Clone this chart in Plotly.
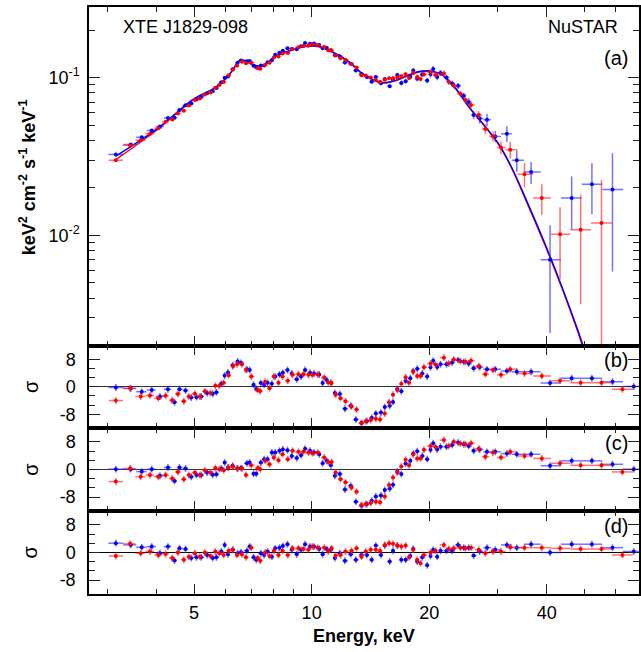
import numpy as np
import plotly.graph_objects as go
from plotly.subplots import make_subplots

# FPMA (blue) spectrum, keV
fpma_energy = [3.151, 3.441, 3.671, 3.894, 4.088, 4.285, 4.455, 4.588, 4.753, 4.914,
               5.071, 5.212, 5.399, 5.580, 5.702, 5.871, 5.987, 6.106, 6.276, 6.464,
               6.592, 6.828, 6.936, 7.100, 7.213, 7.413, 7.559, 7.709, 7.909, 8.066,
               8.272, 8.436, 8.672, 8.895, 9.161, 9.396, 9.619, 9.906, 10.14, 10.46,
               10.67, 10.93, 11.20, 11.47, 11.81, 12.17, 12.60, 12.98,
               13.42, 13.85, 14.25, 14.60, 15.05, 15.39, 15.85, 16.16, 16.58, 16.97,
               17.41, 17.90, 18.21, 18.64, 19.20, 19.77, 20.16, 20.48, 20.97, 21.38,
               22.15, 22.90, 23.72, 24.53, 25.25, 26.00, 26.94, 28.13, 29.54, 31.63,
               33.53, 36.49, 40.80, 46.35, 52.23, 58.96, 66.83]
fpma_flux = [0.0325, 0.0377, 0.0418, 0.0462, 0.0490, 0.0555, 0.0556, 0.0623, 0.0667, 0.0686,
             0.0725, 0.0752, 0.0796, 0.0819, 0.0859, 0.0933, 0.0999, 0.1017, 0.1130, 0.1241,
             0.1281, 0.1271, 0.1272, 0.1188, 0.1159, 0.1191, 0.1194, 0.1252, 0.1288, 0.1396,
             0.1436, 0.1478, 0.1535, 0.1518, 0.1511, 0.1579, 0.1656, 0.1640, 0.1643, 0.1607,
             0.1536, 0.1541, 0.1492, 0.1383, 0.1363, 0.1244, 0.1222, 0.1107,
             0.1055, 0.1007, 0.0942, 0.1010, 0.0919, 0.0978, 0.0881, 0.0972, 0.1039, 0.0924,
             0.0948, 0.1011, 0.1107, 0.0983, 0.1045, 0.0957, 0.1048, 0.1135, 0.1010, 0.1070,
             0.1000, 0.0918, 0.0886, 0.0767, 0.0699, 0.0580, 0.0551, 0.0540, 0.0424, 0.0441,
             0.0299, 0.0252, 0.00701, 0.01725, 0.0211, 0.0195, None]
fpma_flux_err = [0.0005, 0.0006, 0.0006, 0.0007, 0.0008, 0.0008, 0.0009, 0.0010, 0.0010, 0.0011,
                 0.0011, 0.0011, 0.0012, 0.0013, 0.0013, 0.0014, 0.0015, 0.0015, 0.0017, 0.0019,
                 0.0019, 0.0019, 0.0019, 0.0018, 0.0018, 0.0018, 0.0018, 0.0019, 0.0020, 0.0027,
                 0.0028, 0.0029, 0.0030, 0.0030, 0.0030, 0.0031, 0.0032, 0.0032, 0.0032, 0.0032,
                 0.0031, 0.0031, 0.0030, 0.0028, 0.0027, 0.0032, 0.0031, 0.0028,
                 0.0026, 0.0026, 0.0024, 0.0025, 0.0024, 0.0025, 0.0023, 0.0034, 0.0035, 0.0034,
                 0.0035, 0.0035, 0.0038, 0.0036, 0.0037, 0.0035, 0.0049, 0.0050, 0.0048, 0.0046,
                 0.0045, 0.0041, 0.0039, 0.0034, 0.0042, 0.0035, 0.0040, 0.0050, 0.0035, 0.0050,
                 0.0046, 0.0040, 0.0046, 0.0064, 0.0075, 0.0136, None]
fpma_resid_b = [-0.2, -0.5, -1.4, -0.9, -2.8, -0.7, -4.5, -0.7, -1.1, -3.1,
                -3.0, -2.8, -1.8, -2.0, -1.6, 0.9, 3.3, 4.2, 6.3, 7.4,
                7.0, 5.1, 4.9, 0.6, -0.6, 1.1, 0.6, 1.2, 0.9, 3.0,
                3.6, 4.1, 4.9, 3.9, 2.2, 3.0, 4.9, 4.1, 3.9, 3.6,
                1.1, 2.0, 1.2, -1.8, -2.1, -6.4, -5.5, -9.5,
                -10.5, -10.0, -9.0, -7.8, -7.5, -5.9, -5.5, -4.4, -0.6, -1.3,
                1.7, 2.5, 4.6, 5.3, 3.9, 3.0, 5.7, 7.6, 5.8, 6.6,
                6.6, 7.1, 7.8, 7.3, 6.8, 5.4, 5.8, 5.1, 5.1, 4.6,
                4.4, 4.4, 1.1, 2.5, 2.5, 1.5, 0.1]
fpma_resid_c = [0.1, 0.1, -0.6, 0.1, -1.8, 0.6, -3.3, 0.6, 0.3, -2.1,
                -1.6, -1.6, -0.9, -1.5, -1.4, 0.3, 2.0, 0.6, 1.1, 0.3,
                0.4, 1.8, 2.0, -1.2, -1.2, 2.0, 3.0, 3.0, 4.9, 4.9,
                5.4, 5.8, 5.6, 3.9, 3.3, 4.1, 6.0, 5.4, 4.9, 4.4,
                1.8, 2.5, 1.2, -1.8, -1.3, -5.8, -4.7, -9.3,
                -10.5, -10.0, -9.0, -7.8, -7.5, -5.9, -5.5, -4.4, -0.6, -1.3,
                1.7, 2.5, 4.6, 5.3, 3.9, 3.0, 5.7, 7.6, 5.8, 6.6,
                6.6, 7.1, 7.8, 7.3, 6.8, 5.4, 5.8, 5.1, 5.1, 4.6,
                4.4, 4.4, 1.1, 2.5, 2.5, 1.5, 0.1]
fpma_resid_d = [2.7, 2.2, 1.5, 1.7, -0.2, 1.7, -2.3, 1.2, 1.0, -1.6,
                -1.4, -1.4, -0.7, -1.6, -1.4, 0.3, 2.2, -0.5, 0.8, -0.2,
                0.1, 0.5, 1.7, -1.4, -2.1, -0.2, -0.7, 0.3, -1.2, 1.2,
                1.4, 1.9, 2.4, 0.8, -0.5, 0.8, 2.4, 1.7, 1.7, 1.1,
                -0.5, 1.0, 0.8, -1.6, -0.2, -2.4, -0.5, -2.1,
                -0.7, -0.7, -2.1, 2.0, -0.7, 2.0, -2.6, 0.5, 2.0, -2.1,
                -2.1, -1.0, 1.1, -2.6, -1.4, -3.7, -1.0, 0.8, -1.2, 0.5,
                0.5, 0.5, 2.2, 1.4, 1.4, -0.9, 0.3, 1.4, 0.8, 2.2,
                1.4, 2.4, 0.0, 2.4, 2.4, 1.4, 0.3]

# FPMB (red) spectrum
fpmb_energy = [3.151, 3.427, 3.649, 3.855, 4.048, 4.227, 4.395, 4.543, 4.706, 4.847,
               5.021, 5.171, 5.325, 5.506, 5.668, 5.803, 5.953, 6.130, 6.289, 6.438,
               6.631, 6.789, 7.005, 7.284, 7.384, 7.605, 7.800, 8.003, 8.225, 8.420,
               8.688, 8.930, 9.250, 9.526, 9.808, 10.04, 10.36, 10.77, 11.03, 11.25,
               11.52, 11.86, 12.21, 12.65, 13.03, 13.42,
               13.76, 14.17, 14.60, 14.97, 15.39, 15.79, 16.16, 16.58, 16.97, 17.41,
               17.76, 18.21, 18.64, 19.01, 19.39, 20.16, 20.76, 21.81, 22.45, 23.12,
               24.05, 24.77, 25.60, 26.78, 27.86, 29.14, 30.54, 32.26, 35.09, 38.86,
               43.28, 48.87, 55.26, 62.52]
fpmb_flux = [0.0299, 0.0372, 0.0400, 0.0440, 0.0478, 0.0525, 0.0542, 0.0593, 0.0617, 0.0665,
             0.0722, 0.0738, 0.0781, 0.0804, 0.0862, 0.0896, 0.0936, 0.1036, 0.1125, 0.1189,
             0.1260, 0.1231, 0.1241, 0.1147, 0.1138, 0.1200, 0.1242, 0.1341, 0.1358, 0.1423,
             0.1433, 0.1518, 0.1556, 0.1584, 0.1592, 0.1624, 0.1607, 0.1563, 0.1488, 0.1482,
             0.1382, 0.1328, 0.1296, 0.1220, 0.1160, 0.1035,
             0.1030, 0.1000, 0.0965, 0.0940, 0.0970, 0.0990, 0.0990, 0.1000, 0.1020, 0.1050,
             0.0995, 0.1070, 0.1010, 0.0980, 0.1050, 0.1080, 0.1040, 0.1060, 0.0940, 0.0890,
             0.0790, 0.0720, 0.0670, 0.0580, 0.0472, 0.0425, 0.0360, 0.0349, 0.0244, 0.01725,
             0.01015, 0.01086, 0.01197, None]
fpmb_flux_err = [0.0005, 0.0006, 0.0006, 0.0007, 0.0007, 0.0008, 0.0008, 0.0009, 0.0010, 0.0010,
                 0.0011, 0.0011, 0.0012, 0.0012, 0.0013, 0.0013, 0.0014, 0.0016, 0.0017, 0.0018,
                 0.0019, 0.0019, 0.0019, 0.0018, 0.0017, 0.0018, 0.0019, 0.0027, 0.0028, 0.0029,
                 0.0029, 0.0030, 0.0031, 0.0031, 0.0032, 0.0032, 0.0032, 0.0031, 0.0030, 0.0030,
                 0.0028, 0.0027, 0.0033, 0.0031, 0.0029, 0.0026,
                 0.0025, 0.0024, 0.0024, 0.0024, 0.0024, 0.0024, 0.0034, 0.0035, 0.0035, 0.0036,
                 0.0035, 0.0038, 0.0036, 0.0035, 0.0037, 0.0049, 0.0048, 0.0048, 0.0042, 0.0040,
                 0.0036, 0.0033, 0.0040, 0.0035, 0.0035, 0.0030, 0.0033, 0.0043, 0.0043, 0.0038,
                 0.0049, 0.0072, 0.0105, None]
fpmb_resid_b = [-4.0, -0.4, -2.8, -2.5, -3.3, -2.6, -3.9, -2.1, -4.2, -2.8,
                -2.0, -2.8, -1.3, -1.8, 0.3, 0.3, 1.2, 3.4, 6.0, 6.6,
                6.6, 4.9, 3.0, -0.9, -1.2, 1.5, -0.4, 3.0, 1.2, 3.0,
                1.8, 3.5, 3.7, 3.7, 3.5, 3.5, 3.6, 2.7, 1.3, 1.1,
                -2.3, -3.3, -4.2, -5.7, -6.6, -10.6,
                -10.0, -9.7, -9.3, -9.5, -7.8, -4.5, -2.3, -0.9, 0.9, 2.8,
                1.2, 4.4, 3.2, 3.2, 5.7, 6.8, 6.5, 8.5, 6.8, 8.0,
                7.5, 7.3, 7.6, 6.0, 3.7, 4.9, 3.5, 5.1, 3.9, 3.2,
                1.8, 1.2, 1.2, -0.7]
fpmb_resid_c = [-3.5, 0.3, -2.1, -1.6, -2.1, -1.6, -2.6, -0.7, -2.8, -1.6,
                -0.9, -1.6, -0.2, -0.9, 0.4, 0.1, -0.2, 0.6, 0.8, 0.3,
                0.3, -1.6, 1.2, 0.4, 0.1, 2.5, 1.5, 3.5, 2.7, 4.4,
                3.0, 5.4, 5.1, 5.1, 4.9, 4.7, 4.9, 3.5, 2.2, 2.2,
                -0.9, -2.8, -3.7, -5.2, -6.4, -10.3,
                -10.0, -9.7, -9.3, -9.5, -7.8, -4.5, -2.3, -0.9, 0.9, 2.8,
                1.2, 4.4, 3.2, 3.2, 5.7, 6.8, 6.5, 8.5, 6.8, 8.0,
                7.5, 7.3, 7.6, 6.0, 3.7, 4.9, 3.5, 5.1, 3.9, 3.2,
                1.8, 1.2, 1.2, -0.7]
fpmb_resid_d = [-1.0, 2.5, -0.2, 0.3, -0.7, -0.4, -1.6, 0.0, -2.1, -1.2,
                -0.2, -1.2, 0.0, -1.0, 0.3, -0.2, -0.7, 0.5, 0.8, -0.7,
                -0.5, -1.4, 1.4, -1.6, -2.4, 0.0, -1.0, 0.5, -0.7, 0.5,
                -0.7, 1.2, 1.2, 1.0, 0.8, 1.7, 1.4, 1.4, 0.3, 1.2,
                -0.9, -0.7, 0.3, 0.5, 1.2, -1.2,
                0.3, 0.8, 0.8, 0.5, 2.2, 2.7, 2.5, 2.0, 1.7, 2.0,
                -1.4, 0.8, -2.1, -3.1, -0.7, 0.0, 0.5, 2.2, 1.0, 1.2,
                1.4, 1.2, 1.4, 0.8, -0.2, 0.3, 0.3, 1.5, 1.4, 1.4,
                1.2, 1.0, 1.0, -0.7]

# best-fit model curves (folded through each module)
model_energy = [3.15, 4.0, 5.0, 5.58, 6.0, 6.28, 6.5, 6.7, 7.0, 7.3,
                7.6, 8.07, 8.73, 9.62, 10.2, 10.6, 11.47, 12.5, 13.5, 14.9,
                15.5, 16.4, 18.1, 19.2, 20.4, 21.7, 23.4, 25.3, 27.9, 30.1,
                32.5, 35.8, 39.6, 43.8, 49.6, 55.0]
model_fpma = [0.0318, 0.0470, 0.0735, 0.0845, 0.0975, 0.1120, 0.1270, 0.1290, 0.1227, 0.1185,
              0.1210, 0.1365, 0.1475, 0.1580, 0.1590, 0.1563, 0.1430, 0.1256, 0.1060, 0.0938,
              0.0930, 0.0960, 0.1060, 0.1100, 0.1097, 0.1034, 0.0852, 0.0652, 0.0487, 0.0381,
              0.0271, 0.0159, 0.00885, 0.0047, 0.0020, 0.00085]
model_fpmb = [0.0302, 0.0462, 0.0728, 0.0838, 0.0968, 0.1112, 0.1262, 0.1282, 0.1219, 0.1177,
              0.1202, 0.1356, 0.1466, 0.1570, 0.1580, 0.1553, 0.1420, 0.1248, 0.1053, 0.0932,
              0.0924, 0.0954, 0.1053, 0.1093, 0.1090, 0.1027, 0.0846, 0.0647, 0.0483, 0.0377,
              0.0268, 0.0156, 0.00865, 0.0046, 0.00194, 0.00082]

x_major = [5, 10, 20, 40]
x_minor = [3, 4, 6, 7, 8, 9, 30, 50, 60]
y_major = [0.01, 0.1]
y_major_text = ["10<sup>-2</sup>", "10<sup>-1</sup>"]
y_minor = [0.002, 0.003, 0.004, 0.005, 0.006, 0.007, 0.008, 0.009,
           0.02, 0.03, 0.04, 0.05, 0.06, 0.07, 0.08, 0.09, 0.2]
res_major = [-8, 0, 8]
res_minor = [-16 / 3, -8 / 3, 8 / 3, 16 / 3]
panel_labels = ["(a)", "(b)", "(c)", "(d)"]

FONT = "Liberation Sans, Arial, Helvetica, sans-serif"
BLUE, RED = "#0000ff", "#ff0000"
BLUE_BAR, RED_BAR = "rgba(40,40,255,0.65)", "rgba(255,40,40,0.65)"


def bin_halfwidths(energy):
    # bin edges halfway (in log) between neighbouring channels
    e = np.asarray(energy, float)
    mid = np.sqrt(e[1:] * e[:-1])
    lo = np.concatenate([[e[0] ** 2 / mid[0]], mid])
    hi = np.concatenate([mid, [e[-1] ** 2 / mid[-1]]])
    return e - lo, hi - e


W, H = 641, 652
L, R, T, B = 89, 0, 7, 58
plot_w, plot_h = W - L - R, H - T - B

fig = make_subplots(rows=4, cols=1, shared_xaxes=True, vertical_spacing=0,
                    row_heights=[338.7, 82.3, 83, 83])

# top panel: models then data
for me, col in [(model_fpmb, RED), (model_fpma, BLUE)]:
    fig.add_trace(go.Scatter(x=model_energy, y=me, mode="lines", line_shape="spline",
                             line=dict(color=col, width=1.4), showlegend=False), row=1, col=1)

series = [
    (fpma_energy, fpma_flux, fpma_flux_err, [fpma_resid_b, fpma_resid_c, fpma_resid_d], BLUE, BLUE_BAR),
    (fpmb_energy, fpmb_flux, fpmb_flux_err, [fpmb_resid_b, fpmb_resid_c, fpmb_resid_d], RED, RED_BAR),
]
for energy, flux, ferr, resids, col, bar in series:
    xm, xp = bin_halfwidths(energy)
    ex = dict(type="data", symmetric=False, array=xp, arrayminus=xm,
              color=bar, thickness=1.5, width=0)
    fig.add_trace(go.Scatter(
        x=energy, y=flux, mode="markers",
        marker=dict(color=col, size=4),
        error_x=ex,
        error_y=dict(type="data", array=ferr, color=bar, thickness=1.5, width=0),
        showlegend=False), row=1, col=1)
    for k, res in enumerate(resids):
        fig.add_trace(go.Scatter(
            x=energy, y=res, mode="markers",
            marker=dict(color=col, size=4),
            error_x=ex,
            error_y=dict(type="constant", value=1.0, color=bar, thickness=1.5, width=0),
            showlegend=False), row=k + 2, col=1)

axis_common = dict(showline=True, linecolor="black", linewidth=1.5, mirror="ticks",
                   ticks="inside", tickcolor="#222", tickwidth=1, showgrid=False,
                   tickfont=dict(family=FONT, size=18, color="black"))

for r in range(1, 5):
    fig.update_xaxes(type="log", range=[np.log10(2.69), 1.8385],
                     tickmode="array", tickvals=x_major, ticktext=[str(v) for v in x_major],
                     ticklen=10,
                     minor=dict(ticks="inside", ticklen=5, tickcolor="#222",
                                tickmode="array", tickvals=x_minor),
                     showticklabels=(r == 4), ticklabelstandoff=2,
                     **axis_common, row=r, col=1)

fig.update_yaxes(type="log", range=[np.log10(0.002), np.log10(0.28)],
                 tickmode="array", tickvals=y_major, ticktext=y_major_text, ticklen=11,
                 minor=dict(ticks="inside", ticklen=6, tickcolor="#222",
                            tickmode="array", tickvals=y_minor),
                 ticklabelstandoff=4, **axis_common, row=1, col=1)
for r in range(2, 5):
    fig.update_yaxes(range=[-12, 12], tickmode="array", tickvals=res_major,
                     ticktext=[str(v) for v in res_major], ticklen=11,
                     minor=dict(ticks="inside", ticklen=6, tickcolor="#222",
                                tickmode="array", tickvals=res_minor),
                     zeroline=True, zerolinecolor="#333" if r < 4 else "black",
                     zerolinewidth=1, ticklabelstandoff=8,
                     **axis_common, row=r, col=1)


def px(xpix):
    return (xpix - L) / plot_w


def py(ypix):
    return (H - B - ypix) / plot_h


ann = []
txt = dict(family=FONT, size=18, color="black")
ann.append(dict(text="XTE J1829-098", x=px(185.5), y=py(27), font=txt))
ann.append(dict(text="NuSTAR", x=px(584.5), y=py(27), font=txt))
for lab, yy in zip(panel_labels, [58, 360, 443, 526]):
    ann.append(dict(text=lab, x=px(618), y=py(yy), font=dict(family=FONT, size=20, color="black")))
ann.append(dict(text="<b>keV<sup>2</sup> cm<sup>-2</sup> s<sup>-1</sup> keV<sup>-1</sup></b>",
                x=px(27), y=py(177), textangle=-90, font=txt))
for yy in [386.7, 469.5, 552.3]:
    ann.append(dict(text="σ", x=px(30), y=py(yy), textangle=-90,
                    font=dict(family=FONT, size=20, color="black")))
ann.append(dict(text="<b>Energy, keV</b>", x=px(365), y=py(636), font=txt))
for a in ann:
    a.update(xref="paper", yref="paper", showarrow=False, xanchor="center", yanchor="middle")

fig.update_layout(width=W, height=H, margin=dict(l=L, r=R, t=T, b=B),
                  paper_bgcolor="white", plot_bgcolor="white",
                  annotations=ann, font=dict(family=FONT))

# the page's default body margin would shift the figure by 8 px
fig.write_html("out.html", config={"displayModeBar": False},
               post_script="document.body.style.margin='0';")
